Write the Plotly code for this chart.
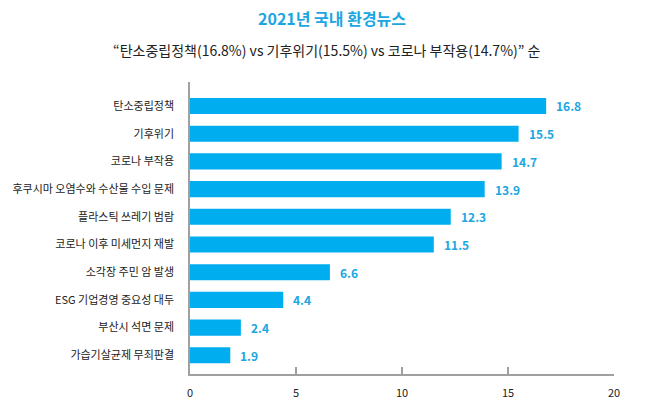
import plotly.graph_objects as go

categories = ["탄소중립정책", "기후위기", "코로나 부작용", "후쿠시마 오염수와 수산물 수입 문제",
              "플라스틱 쓰레기 범람", "코로나 이후 미세먼지 재발", "소각장 주민 암 발생",
              "ESG 기업경영 중요성 대두", "부산시 석면 문제", "가습기살균제 무죄판결"]
values = [16.8, 15.5, 14.7, 13.9, 12.3, 11.5, 6.6, 4.4, 2.4, 1.9]
x_ticks = [0, 5, 10, 15, 20]

BLUE = "#00AEEF"
FONT = "Noto Sans CJK KR"
L, R, T, B, W, H = 187, 36, 82, 44, 650, 418
PW, PH = W - L - R, H - T - B

fig = go.Figure(go.Bar(
    x=values, y=categories, orientation="h",
    marker=dict(color=BLUE, line=dict(width=0)),
    hoverinfo="skip",
))

for c, v in zip(categories, values):
    fig.add_annotation(x=v, y=c, text=f"<b>{v}</b>", showarrow=False, xanchor="left",
                       xshift=8, font=dict(family=FONT, size=12, color="#1BA6E2"))

fig.add_annotation(text="<b>2021년 국내 환경뉴스</b>", xref="paper", yref="paper",
                   x=(330 - L) / PW, y=1 + (T - 18) / PH, xanchor="center", yanchor="middle",
                   showarrow=False, font=dict(size=16, color="#1BA6E2", family=FONT))
fig.add_annotation(text="“탄소중립정책(16.8%) vs 기후위기(15.5%) vs 코로나 부작용(14.7%)” 순",
                   xref="paper", yref="paper",
                   x=(325 - L) / PW, y=1 + (T - 50) / PH, xanchor="center", yanchor="middle",
                   showarrow=False, font=dict(size=14, color="#222222", family=FONT))

fig.update_layout(
    width=W, height=H,
    margin=dict(l=L, r=R, t=T, b=B),
    paper_bgcolor="white", plot_bgcolor="white",
    bargap=0.42, showlegend=False,
    font=dict(family=FONT, color="#333333"),
)

fig.update_xaxes(range=[0, 20], tickvals=x_ticks, showgrid=False, zeroline=False,
                 showline=True, linecolor="#A0A0A0", linewidth=1.5,
                 ticks="inside", ticklen=7, tickcolor="#A0A0A0", tickwidth=1.5,
                 ticklabelstandoff=8,
                 tickfont=dict(size=11, color="#222222", family=FONT))
fig.update_yaxes(range=[9.675, -0.866], showgrid=False, zeroline=False,
                 showline=True, linecolor="#A0A0A0", linewidth=1.5,
                 ticks="", ticklabelstandoff=12,
                 tickfont=dict(size=11, color="#222222", family=FONT))

fig.write_html("out.html")
